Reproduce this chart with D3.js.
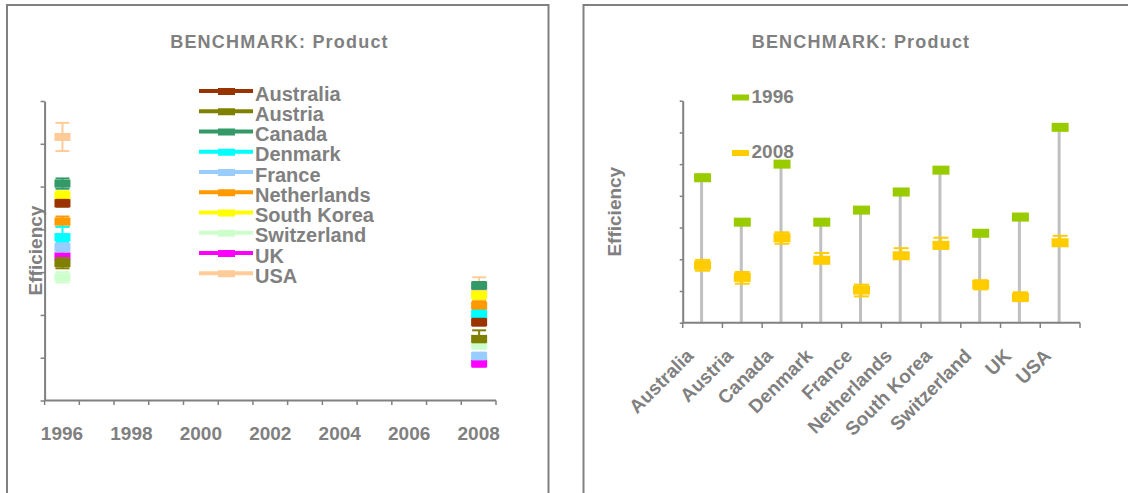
<!DOCTYPE html>
<html><head><meta charset="utf-8">
<script src="https://cdn.jsdelivr.net/npm/d3@7"></script>
<style>
body{margin:0;background:#fff;}
text{font-family:"Liberation Sans",Arial,sans-serif;font-weight:bold;fill:#808080;}
</style></head><body>
<svg id="c" width="1128" height="493"></svg>
<script>
// ---------- data ----------
const countries = ["Australia","Austria","Canada","Denmark","France","Netherlands","South Korea","Switzerland","UK","USA"];
const countryColors = ["#993300","#808000","#339966","#00FFFF","#99CCFF","#FF9900","#FFFF00","#CCFFCC","#FF00FF","#FFCC99"];
const yearCategories = ["1996","1997","1998","1999","2000","2001","2002","2003","2004","2005","2006","2007","2008"];
const yearTickLabels = ["1996","1998","2000","2002","2004","2006","2008"];
const compareYears = ["1996","2008"];
const yearColors = ["#99CC00","#FFCC00"];

// left chart (by year, one series per country)
const leftEff1996 = [4.61,3.21,5.07,3.82,3.58,4.18,4.79,2.88,3.37,6.16];
const leftEff2008 = [1.83,1.44,2.69,2.02,1.04,2.22,2.46,1.29,0.87,2.55];
const leftErrUp1996 = [0.08,0.12,0.12,0.24,0.10,0.12,0.10,0.12,0.15,0.33];
const leftErrDown1996 = [0.08,0.12,0.12,0.10,0.10,0.12,0.10,0.12,0.10,0.33];
const leftErrUp2008 = [0.08,0.20,0.08,0.08,0.08,0.10,0.08,0.08,0.08,0.33];
const leftErrDown2008 = [0.08,0.08,0.08,0.08,0.08,0.10,0.08,0.08,0.08,0.18];

// right chart (by country, one series per year)
const rightEff1996 = [4.57,3.17,5.00,3.17,3.55,4.12,4.81,2.82,3.33,6.16];
const rightEff2008 = [1.81,1.43,2.68,1.97,1.03,2.11,2.44,1.20,0.80,2.52];
const rightErrUp1996 = [0.10,0.10,0.10,0.10,0.08,0.10,0.08,0.08,0.10,0.10];
const rightErrDown1996 = [0.08,0.08,0.08,0.08,0.08,0.08,0.08,0.08,0.08,0.08];
const rightErrUp2008 = [0.17,0.17,0.17,0.23,0.17,0.24,0.24,0.14,0.16,0.22];
const rightErrDown2008 = [0.17,0.20,0.19,0.10,0.20,0.10,0.10,0.15,0.12,0.10];

const yDomain = [0,7];
const titleText = "BENCHMARK: Product";
const yLabel = "Efficiency";

// ---------- drawing ----------
const svg = d3.select("#c");
const gray = "#808080";

// panel frames
svg.append("path").attr("d","M7,495V5H548.5V495").attr("fill","none").attr("stroke",gray).attr("stroke-width",2);
svg.append("path").attr("d","M583.5,495V5H1135").attr("fill","none").attr("stroke",gray).attr("stroke-width",2);

function drawMarker(g, cx, cy, yTop, yBot, color, w, h){
  g.append("line").attr("x1",cx).attr("x2",cx).attr("y1",yTop).attr("y2",yBot)
    .attr("stroke",color).attr("stroke-width",2);
  [yTop,yBot].forEach(yy=>g.append("line").attr("x1",cx-w/2+1).attr("x2",cx+w/2-1)
    .attr("y1",yy).attr("y2",yy).attr("stroke",color).attr("stroke-width",2));
  g.append("rect").attr("x",cx-w/2).attr("y",cy-h/2).attr("width",w).attr("height",h).attr("fill",color);
}

// ===== LEFT CHART =====
{
  const x = d3.scaleBand().domain(yearCategories).range([44.6,496]);
  const y = d3.scaleLinear().domain(yDomain).range([400.5,101]);
  const g = svg.append("g");

  g.append("text").attr("x",279.5).attr("y",48).attr("text-anchor","middle")
    .style("font-size","18px").style("letter-spacing","1.2px").text(titleText);

  // y axis
  const ya = g.append("g").attr("transform","translate(44.6,0)")
    .call(d3.axisLeft(y).ticks(7).tickFormat("").tickSize(4).tickSizeOuter(0));
  ya.select(".domain").attr("stroke",gray).attr("stroke-width",2);
  ya.selectAll(".tick line").attr("stroke",gray).attr("stroke-width",1.5);

  // x axis: labels via axis, ticks at band edges
  const xa = g.append("g").attr("transform","translate(0,400.5)")
    .call(d3.axisBottom(x).tickValues(yearTickLabels).tickSize(0).tickPadding(0));
  xa.select(".domain").remove();
  xa.selectAll(".tick text").style("font-size","19px").attr("dy","0").attr("y",39.5)
    .style("font-family","'Liberation Sans',Arial,sans-serif").style("font-weight","bold").attr("fill",gray);
  g.append("line").attr("x1",x.range()[0]).attr("x2",x.range()[1]).attr("y1",400.5).attr("y2",400.5)
    .attr("stroke",gray).attr("stroke-width",2);
  const edges = yearCategories.map(c=>x(c)).concat([x.range()[1]]);
  g.selectAll(".edge").data(edges).join("line").attr("class","edge")
    .attr("x1",d=>d).attr("x2",d=>d).attr("y1",400.5).attr("y2",405)
    .attr("stroke",gray).attr("stroke-width",1.5);

  g.append("text").attr("transform","translate(42,250.5) rotate(-90)").attr("text-anchor","middle")
    .style("font-size","19px").text(yLabel);

  // markers (earlier series drawn on top)
  const bw = x.bandwidth();
  for (let i = countries.length-1; i >= 0; i--) {
    const sets = [["1996",leftEff1996[i],leftErrUp1996[i],leftErrDown1996[i]],
                  ["2008",leftEff2008[i],leftErrUp2008[i],leftErrDown2008[i]]];
    sets.forEach(([yr,v,eu,ed])=>{
      drawMarker(g, x(yr)+bw/2+0.5, y(v), y(v+eu), y(v-ed), countryColors[i], 16, 8);
    });
  }

  // legend
  const lg = g.append("g");
  countries.forEach((c,i)=>{
    const ly = 91 + i*20.25;
    lg.append("line").attr("x1",199).attr("x2",253).attr("y1",ly).attr("y2",ly)
      .attr("stroke",countryColors[i]).attr("stroke-width",4);
    lg.append("rect").attr("x",218).attr("y",ly-3).attr("width",17).attr("height",7).attr("fill",countryColors[i]);
    lg.append("text").attr("x",255).attr("y",ly+9.5).style("font-size","20px").text(c);
  });
}

// ===== RIGHT CHART =====
{
  const x = d3.scaleBand().domain(countries).range([682.7,1080]);
  const y = d3.scaleLinear().domain(yDomain).range([322.7,100.7]);
  const g = svg.append("g");
  const bw = x.bandwidth();

  g.append("text").attr("x",861).attr("y",48).attr("text-anchor","middle")
    .style("font-size","18px").style("letter-spacing","1.2px").text(titleText);

  const ya = g.append("g").attr("transform","translate(682.7,0)")
    .call(d3.axisLeft(y).ticks(7).tickFormat("").tickSize(3).tickSizeOuter(0));
  ya.select(".domain").attr("stroke",gray).attr("stroke-width",2);
  ya.selectAll(".tick line").attr("stroke",gray).attr("stroke-width",1.5);

  g.append("text").attr("transform","translate(620.5,211.7) rotate(-90)").attr("text-anchor","middle")
    .style("font-size","19px").text(yLabel);

  // drop lines
  g.selectAll(".drop").data(countries).join("line").attr("class","drop")
    .attr("x1",(d)=>x(d)+bw/2-1).attr("x2",(d)=>x(d)+bw/2-1)
    .attr("y1",(d,i)=>y(rightEff1996[i])).attr("y2",y(0))
    .attr("stroke","#C0C0C0").attr("stroke-width",3);

  // x axis
  g.append("line").attr("x1",x.range()[0]).attr("x2",x.range()[1]).attr("y1",322.7).attr("y2",322.7)
    .attr("stroke",gray).attr("stroke-width",2);
  const edges = countries.map(c=>x(c)).concat([x.range()[1]]);
  g.selectAll(".edge").data(edges).join("line").attr("class","edge")
    .attr("x1",d=>d).attr("x2",d=>d).attr("y1",322.7).attr("y2",328)
    .attr("stroke",gray).attr("stroke-width",1.5);
  g.selectAll(".xl").data(countries).join("text").attr("class","xl")
    .attr("transform",d=>`translate(${x(d)+bw/2-8},357) rotate(-45)`)
    .attr("text-anchor","end").style("font-size","19px").text(d=>d);

  // markers
  countries.forEach((c,i)=>{
    const cx = x(c)+bw/2;
    drawMarker(g, cx, y(rightEff2008[i]), y(rightEff2008[i]+rightErrUp2008[i]), y(rightEff2008[i]-rightErrDown2008[i]), yearColors[1], 17, 9);
    drawMarker(g, cx, y(rightEff1996[i]), y(rightEff1996[i]+rightErrUp1996[i]), y(rightEff1996[i]-rightErrDown1996[i]), yearColors[0], 17, 9);
  });

  // legend
  const legY = [97.5,153];
  const legTextY = [103.3,158.3];
  compareYears.forEach((yr,i)=>{
    g.append("rect").attr("x",732).attr("y",legY[i]-3).attr("width",17).attr("height",6).attr("fill",yearColors[i]);
    g.append("text").attr("x",751.5).attr("y",legTextY[i]).style("font-size","19px").text(yr);
  });
}
</script>
</body></html>
